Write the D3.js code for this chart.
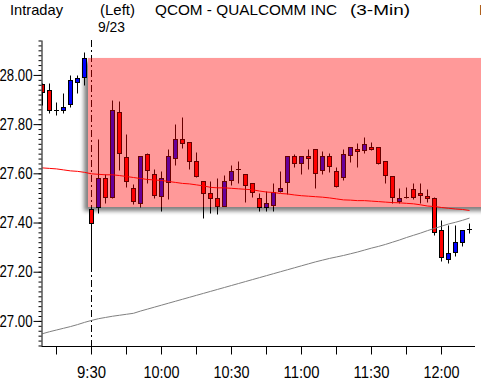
<!DOCTYPE html>
<html><head><meta charset="utf-8">
<script src="https://cdn.jsdelivr.net/npm/d3@7"></script>
<style>html,body{margin:0;padding:0;background:#fff;} svg{display:block;}</style>
</head><body><div id="chart"></div>
<script>
// ---- data ----
const times = ["9:09","9:12","9:15","9:18","9:21","9:24","9:27",
 "9:30","9:33","9:36","9:39","9:42","9:45","9:48","9:51","9:54","9:57",
 "10:00","10:03","10:06","10:09","10:12","10:15","10:18","10:21","10:24","10:27",
 "10:30","10:33","10:36","10:39","10:42","10:45","10:48","10:51","10:54","10:57",
 "11:00","11:03","11:06","11:09","11:12","11:15","11:18","11:21","11:24","11:27",
 "11:30","11:33","11:36","11:39","11:42","11:45","11:48","11:51","11:54","11:57",
 "12:00","12:03","12:06","12:09","12:12"];
const opens = [27.963,27.938,27.857,27.859,27.881,27.970,27.990,
 27.455,27.462,27.581,27.503,27.848,27.668,27.539,27.481,27.678,27.596,
 27.509,27.565,27.661,27.739,27.726,27.650,27.569,27.519,27.499,27.469,
 27.573,27.617,27.596,27.560,27.499,27.462,27.470,27.528,27.564,27.670,
 27.641,27.670,27.698,27.613,27.670,27.610,27.584,27.674,27.698,27.694,
 27.706,27.706,27.649,27.588,27.489,27.505,27.538,27.520,27.508,27.499,
 27.370,27.251,27.282,27.322,27.375];
const highs = [27.967,27.969,27.891,27.928,28.000,28.001,28.093,
 27.456,27.740,27.598,27.898,27.894,27.759,27.557,27.671,27.683,27.618,
 27.610,27.698,27.800,27.830,27.728,27.688,27.569,27.569,27.580,27.593,
 27.634,27.650,27.597,27.560,27.520,27.528,27.560,27.610,27.671,27.680,
 27.671,27.698,27.698,27.690,27.682,27.627,27.698,27.707,27.722,27.747,
 27.726,27.707,27.650,27.588,27.539,27.546,27.562,27.562,27.535,27.505,
 27.411,27.390,27.390,27.370,27.397];
const lows = [27.878,27.847,27.836,27.847,27.869,27.926,27.958,
 27.213,27.438,27.478,27.500,27.614,27.544,27.476,27.465,27.560,27.499,
 27.448,27.497,27.634,27.704,27.617,27.584,27.417,27.438,27.436,27.467,
 27.553,27.560,27.485,27.505,27.448,27.448,27.448,27.524,27.516,27.627,
 27.596,27.617,27.539,27.596,27.607,27.546,27.573,27.648,27.627,27.682,
 27.695,27.637,27.560,27.481,27.478,27.499,27.495,27.481,27.484,27.350,
 27.245,27.237,27.264,27.305,27.357];
const closes = [27.931,27.858,27.857,27.869,27.978,27.987,28.068,
 27.400,27.580,27.504,27.857,27.682,27.570,27.489,27.670,27.613,27.510,
 27.580,27.670,27.739,27.722,27.652,27.591,27.522,27.501,27.469,27.569,
 27.610,27.617,27.552,27.523,27.462,27.478,27.526,27.539,27.670,27.641,
 27.670,27.661,27.600,27.670,27.631,27.550,27.678,27.706,27.692,27.718,
 27.700,27.641,27.592,27.503,27.500,27.505,27.503,27.511,27.501,27.363,
 27.261,27.278,27.320,27.370,27.375];
const maRed = [27.622,27.620,27.618,27.614,27.610,27.608,27.604,
 27.598,27.596,27.594,27.594,27.591,27.587,27.583,27.579,27.575,27.573,
 27.571,27.567,27.563,27.559,27.557,27.553,27.549,27.543,27.541,27.541,
 27.539,27.537,27.535,27.533,27.528,27.524,27.522,27.518,27.516,27.512,
 27.509,27.507,27.505,27.503,27.500,27.496,27.492,27.491,27.489,27.489,
 27.487,27.485,27.483,27.481,27.480,27.478,27.476,27.472,27.467,27.465,
 27.461,27.458,27.455,27.453,27.449];
const maGray = [26.948,26.956,26.963,26.970,26.977,26.985,26.994,
 27.002,27.009,27.014,27.019,27.023,27.027,27.031,27.040,27.048,27.056,
 27.064,27.072,27.080,27.088,27.096,27.104,27.112,27.120,27.128,27.136,
 27.144,27.152,27.160,27.168,27.176,27.184,27.192,27.200,27.208,27.216,
 27.224,27.232,27.240,27.247,27.254,27.260,27.266,27.273,27.280,27.288,
 27.296,27.303,27.311,27.320,27.329,27.339,27.348,27.357,27.367,27.376,
 27.385,27.394,27.401,27.409,27.418];
const yMajorTicks = [27.00, 27.20, 27.40, 27.60, 27.80, 28.00];
const yTickLabels = ["27.00","27.20","27.40","27.60","27.80","28.00"];
const xTickTimes = ["9:15","9:30","9:45","10:00","10:15","10:30","10:45","11:00","11:15","11:30","11:45","12:00"];
const xTickLabels = ["","9:30","","10:00","","10:30","","11:00","","11:30","","12:00"];
const zoneStart = "9:28:30", zoneEnd = "12:22";
const zoneTop = 28.069, zoneBottom = 27.463;
const dayStart = "9:30";
const headerTexts = [
  {t:"Intraday", x:10, y:15, w:53},
  {t:"(Left)", x:100, y:15, w:35},
  {t:"QCOM - QUALCOMM INC", x:155, y:15, w:182},
  {t:"(3-Min)", x:350, y:15, w:60},
  {t:"9/23", x:98, y:32, w:27},
  {t:"I", x:479, y:15, w:null}
];

// ---- chart ----
function toMin(s){const p=s.split(":").map(Number);return p[0]*60+p[1]+(p[2]||0)/60;}
const W=481,H=383;
const FONT='"Liberation Sans", Arial, sans-serif';
const t0 = toMin("9:30");
const x = d3.scaleLinear().domain([t0-50*3/7, t0+383.5*3/7]).range([41.5,475]);
const y = d3.scaleLinear().domain([26.898, 28.142]).range([346, 40]);

const svg = d3.select("#chart").append("svg").attr("width",W).attr("height",H)
  .style("background","#fff");
const defs = svg.append("defs");
defs.append("clipPath").attr("id","plot").append("rect")
  .attr("x",42).attr("y",40).attr("width",475-42).attr("height",306);
const f = defs.append("filter").attr("id","blur").attr("x","-10%").attr("y","-30%").attr("width","120%").attr("height","160%");
f.append("feGaussianBlur").attr("stdDeviation",2.2);
const zx0 = x(toMin(zoneStart)), zx1 = x(toMin(zoneEnd));
const zy0 = y(zoneTop), zy1 = y(zoneBottom);
const m = defs.append("mask").attr("id","outside").attr("maskUnits","userSpaceOnUse")
  .attr("x",0).attr("y",0).attr("width",W+20).attr("height",H);
m.append("rect").attr("x",0).attr("y",0).attr("width",W+20).attr("height",H).attr("fill","#fff");
m.append("rect").attr("x",zx0).attr("y",zy0).attr("width",zx1-zx0).attr("height",zy1-zy0).attr("fill","#000");

// shadow
svg.append("g").attr("mask","url(#outside)").append("rect")
  .attr("x",zx0-4).attr("y",zy0+4).attr("width",zx1-zx0).attr("height",zy1-zy0)
  .attr("fill","#000").attr("opacity",0.5).attr("filter","url(#blur)");

// day separator
const xd = x(toMin(dayStart));
svg.append("line").attr("x1",xd).attr("x2",xd).attr("y1",40).attr("y2",346)
  .attr("stroke","#000").attr("stroke-width",1).attr("stroke-dasharray","7,3,2,3");

// candles
const data = times.map((t,i)=>({t:toMin(t),o:opens[i],h:highs[i],l:lows[i],c:closes[i]}));
const cg = svg.append("g").attr("clip-path","url(#plot)");
const cr = v=>Math.round(v)+0.5;
data.forEach(d=>{
  const cx = x(d.t);
  cg.append("line").attr("x1",cx).attr("x2",cx).attr("y1",cr(y(d.h))).attr("y2",cr(y(d.l)))
    .attr("stroke","#000").attr("stroke-width",1);
  if (d.o===d.c){
    cg.append("line").attr("x1",cx-2.5).attr("x2",cx+2.5).attr("y1",cr(y(d.o))).attr("y2",cr(y(d.o)))
      .attr("stroke","#000").attr("stroke-width",1);
  } else {
    const top = cr(y(Math.max(d.o,d.c))), bot = cr(y(Math.min(d.o,d.c)));
    cg.append("rect").attr("x",cx-2).attr("width",4).attr("y",top).attr("height",Math.max(1,bot-top))
      .attr("fill", d.c>d.o ? "#0000ff" : "#ff0000").attr("stroke","#000").attr("stroke-width",1);
  }
});

// moving averages
const lg = svg.append("g").attr("clip-path","url(#plot)");
const line = d3.line().x(d=>d[0]).y(d=>d[1]);
lg.append("path").attr("d",line(data.map((d,i)=>[x(d.t),y(maGray[i])])))
  .attr("fill","none").attr("stroke","#808080").attr("stroke-width",1);
lg.append("path").attr("d",line(data.map((d,i)=>[x(d.t),y(maRed[i])])))
  .attr("fill","none").attr("stroke","#ff0000").attr("stroke-width",1);

// zone overlay
svg.append("rect").attr("x",zx0).attr("y",zy0).attr("width",zx1-zx0).attr("height",zy1-zy0)
  .attr("fill","rgba(255,0,0,0.4)");

// y axis
const minor = d3.range(1345,1408).map(i=>+(i*0.02).toFixed(2));
const yMinor = svg.append("g").attr("transform","translate(41.5,0)")
  .call(d3.axisLeft(y).tickValues(minor).tickSize(3).tickSizeOuter(0).tickFormat(""));
const yMajor = svg.append("g").attr("transform","translate(41.5,0)")
  .call(d3.axisLeft(y).tickValues(yMajorTicks).tickSize(8).tickSizeOuter(0).tickPadding(1)
    .tickFormat((d,i)=>yTickLabels[i]));
yMajor.select(".domain").remove();
[yMinor,yMajor].forEach(g=>{g.selectAll("line,path").attr("stroke","#000");});
yMajor.selectAll("text").attr("fill","#000").style("font-family",FONT).style("font-size","16px")
  .attr("textLength",33).attr("lengthAdjust","spacingAndGlyphs");
svg.selectAll(".domain").attr("stroke","#000");

// x axis
const xa = svg.append("g").attr("transform","translate(0,346.5)")
  .call(d3.axisBottom(x).tickValues(xTickTimes.map(toMin)).tickSize(8).tickSizeOuter(0).offset(0)
    .tickFormat((d,i)=>xTickLabels[i]));
xa.selectAll("line,path").attr("stroke","#000");
xa.selectAll("text").attr("fill","#000").attr("y",20).style("font-family",FONT).style("font-size","16px")
  .each(function(){const s=d3.select(this).text(); if(s){d3.select(this).attr("textLength",s.length===4?29:36).attr("lengthAdjust","spacingAndGlyphs");}});

// header
headerTexts.forEach(h=>{
  const t = svg.append("text").attr("x",h.x).attr("y",h.y).text(h.t)
    .style("font-family",FONT).style("font-size","15px").attr("fill","#000");
  if (h.w) t.attr("textLength",h.w).attr("lengthAdjust","spacingAndGlyphs");
});
</script></body></html>
